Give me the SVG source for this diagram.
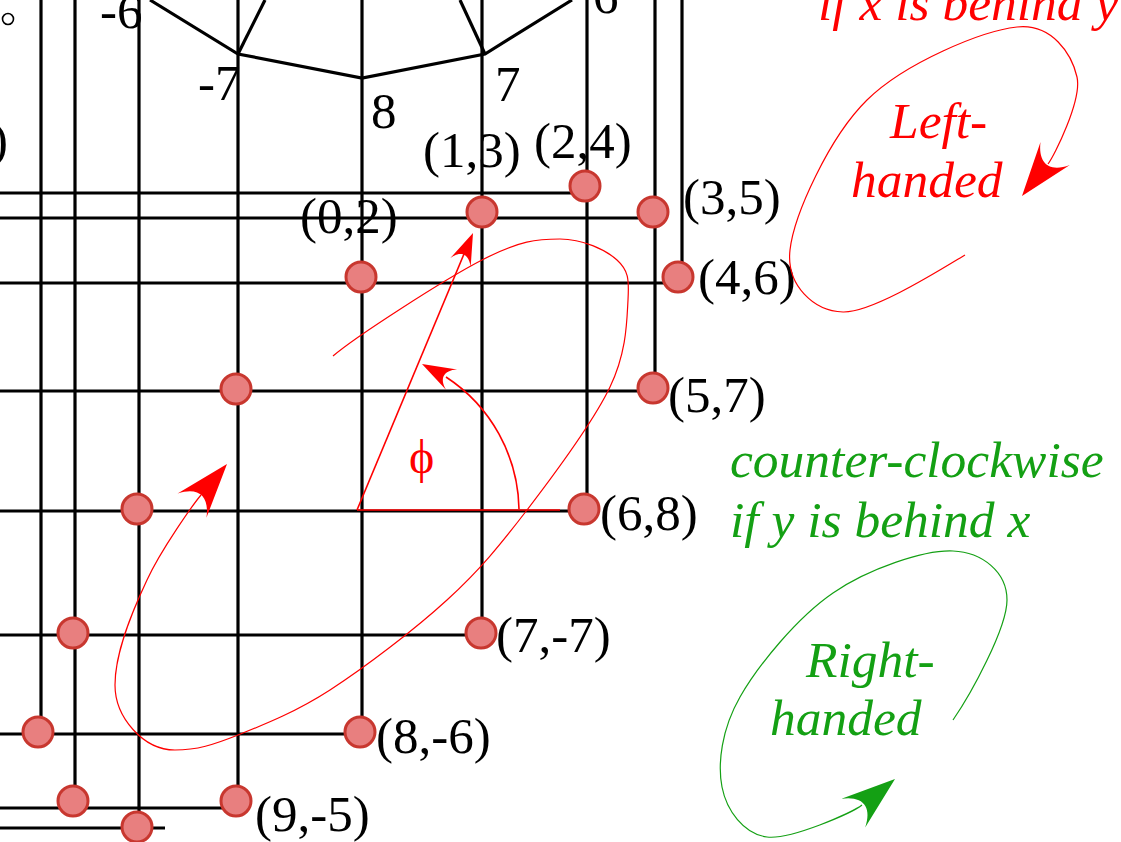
<svg xmlns="http://www.w3.org/2000/svg" xmlns:xlink="http://www.w3.org/1999/xlink" width="1121" height="842" viewBox="0 0 1121 842">
<style>
.g{stroke:#000;stroke-width:3.2;fill:none}
.n{fill:#e87f7f;stroke:#c8372f;stroke-width:3}
.lb{font-family:"Liberation Serif","Times New Roman",serif;font-size:51px;fill:#000}
.rt{font-family:"Liberation Serif","Times New Roman",serif;font-style:italic;font-size:51.5px;fill:#ff0000}
.gt{font-family:"Liberation Serif","Times New Roman",serif;font-style:italic;font-size:51.5px;fill:#14a014}
.rc{fill:none;stroke:#ff0000;stroke-width:1.2}
.rl{fill:none;stroke:#ff0000;stroke-width:1.6}
.gc{fill:none;stroke:#14a014;stroke-width:1.2}
.ra{fill:#ff0000}
.ga{fill:#14a014}
</style>
<defs>
<path id="ah" d="M0,0 L-11,-3.8 C-7.2,-1.5 -7.2,1.5 -11,3.8 Z"/>
</defs>
<g id="connectors">
<g class="g">
<line x1="0" y1="193" x2="584" y2="193"/>
<line x1="0" y1="218" x2="653" y2="218"/>
<line x1="0" y1="283" x2="678" y2="283"/>
<line x1="0" y1="391" x2="653" y2="391"/>
<line x1="0" y1="511" x2="584" y2="511"/>
<line x1="0" y1="635" x2="481" y2="635"/>
<line x1="0" y1="734" x2="360" y2="734"/>
<line x1="0" y1="808" x2="236" y2="808"/>
<line x1="0" y1="828" x2="165" y2="828"/>
<line x1="41" y1="0" x2="41" y2="732"/>
<line x1="75" y1="0" x2="75" y2="801"/>
<line x1="139" y1="0" x2="139" y2="827"/>
<line x1="238" y1="0" x2="238" y2="801"/>
<line x1="362" y1="0" x2="362" y2="732"/>
<line x1="482" y1="0" x2="482" y2="633"/>
<line x1="587" y1="0" x2="587" y2="509"/>
<line x1="655" y1="0" x2="655" y2="388"/>
<line x1="682" y1="0" x2="682" y2="277"/>
<polyline points="150,0 238,54 362,78 485,54 572,0"/>
<line x1="265" y1="0" x2="238" y2="54"/>
<line x1="460" y1="0" x2="485" y2="54"/>
</g>
</g>
<g id="top-labels" class="lb">
<text x="100" y="28">-6</text>
<text x="198" y="100">-7</text>
<text x="371" y="128">8</text>
<text x="495" y="101">7</text>
<text x="593" y="13">6</text>
<text x="-9" y="157">)</text>
</g>
<circle cx="8" cy="19" r="5.5" fill="none" stroke="#000" stroke-width="1.6"/>
<g id="node-2-4"><circle class="n" cx="585" cy="186" r="15"/><text class="lb" x="534" y="158">(2,4)</text></g>
<g id="node-1-3"><circle class="n" cx="482" cy="212" r="15"/><text class="lb" x="423" y="167">(1,3)</text></g>
<g id="node-3-5"><circle class="n" cx="653" cy="212" r="15"/><text class="lb" x="683" y="214">(3,5)</text></g>
<g id="node-4-6"><circle class="n" cx="678" cy="277" r="15"/><text class="lb" x="698" y="294">(4,6)</text></g>
<g id="node-0-2"><circle class="n" cx="361" cy="277" r="15"/><text class="lb" x="300" y="233">(0,2)</text></g>
<g id="node-5-7"><circle class="n" cx="653" cy="388" r="15"/><text class="lb" x="668" y="412">(5,7)</text></g>
<g id="node-a"><circle class="n" cx="236" cy="389" r="15"/></g>
<g id="node-b"><circle class="n" cx="137" cy="509" r="15"/></g>
<g id="node-6-8"><circle class="n" cx="584" cy="509" r="15"/><text class="lb" x="600" y="530">(6,8)</text></g>
<g id="node-7-m7"><circle class="n" cx="481" cy="633" r="15"/><text class="lb" x="496" y="652">(7,-7)</text></g>
<g id="node-c"><circle class="n" cx="73" cy="633" r="15"/></g>
<g id="node-d"><circle class="n" cx="38" cy="732" r="15"/></g>
<g id="node-8-m6"><circle class="n" cx="360" cy="732" r="15"/><text class="lb" x="376" y="753">(8,-6)</text></g>
<g id="node-e"><circle class="n" cx="73" cy="801" r="15"/></g>
<g id="node-9-m5"><circle class="n" cx="236" cy="801" r="15"/><text class="lb" x="255" y="831">(9,-5)</text></g>
<g id="node-f"><circle class="n" cx="137" cy="827" r="15"/></g>
<g id="red-annotations">
<path class="rc" d="M333,356 C355,337 444.2,279.5 482,260 C519.8,240.5 537.5,239 560,239 C582.5,239 605.7,249.8 617,260 C628.3,270.2 629.2,278.8 628,300 C626.8,321.2 626.8,352 610,387 C593.2,422 554.2,474.5 527,510 C499.8,545.5 479.8,570 447,600 C414.2,630 364.8,667.5 330,690 C295.2,712.5 263,725 238,735 C213,745 197,750 175,750 C143,750 115,717 115,685 C115,653 131,614 147,580 C161.3,549.2 193.3,504.2 201,495"/>
<use href="#ah" class="ra" transform="translate(227,464) rotate(-50) scale(4.95)"/>
<line class="rl" x1="357" y1="510" x2="560" y2="510"/>
<line class="rl" x1="357" y1="510" x2="464" y2="254"/>
<use href="#ah" class="ra" transform="translate(473,233) rotate(-67) scale(2.9)"/>
<path class="rl" d="M519,509 A161,161 0 0 0 446,377"/>
<use href="#ah" class="ra" transform="translate(422,364) rotate(-152) scale(3.05)"/>
<text x="409" y="473" style="font-family:'Liberation Serif',serif;font-size:48px;fill:#ff0000">ϕ</text>
<path class="rc" d="M965,255 C940,270 872.2,312.8 843,312 C813.8,311.2 786,285.3 790,250 C794,214.7 829.2,137.2 867,100 C904.8,62.8 982,30.8 1017,27 C1052,23.2 1071.8,54.2 1077,77 C1082.2,99.8 1054.2,156.1 1048,164"/>
<use href="#ah" class="ra" transform="translate(1022,196) rotate(128) scale(4.9)"/>
<text class="rt" x="818" y="20">if x is behind y</text>
<text class="rt" x="890" y="138">Left-</text>
<text class="rt" x="851" y="197">handed</text>
</g>
<g id="green-annotations">
<text class="gt" x="730" y="477">counter-clockwise</text>
<text class="gt" x="730" y="537">if y is behind x</text>
<text class="gt" x="806" y="677">Right-</text>
<text class="gt" x="770" y="735">handed</text>
<path class="gc" d="M953,720 C971,694 1007,628.2 1007,600 C1007,571.8 982,552.2 953,551 C924,549.8 868.5,568.7 833,593 C797.5,617.3 758.5,664.7 740,697 C721.5,729.3 717.5,763.7 722,787 C726.5,810.3 743.7,834 767,837 C790.3,840 852.7,812.6 862,805"/>
<use href="#ah" class="ga" transform="translate(895,779) rotate(-39.4) scale(4.9)"/>
</g>
</svg>
